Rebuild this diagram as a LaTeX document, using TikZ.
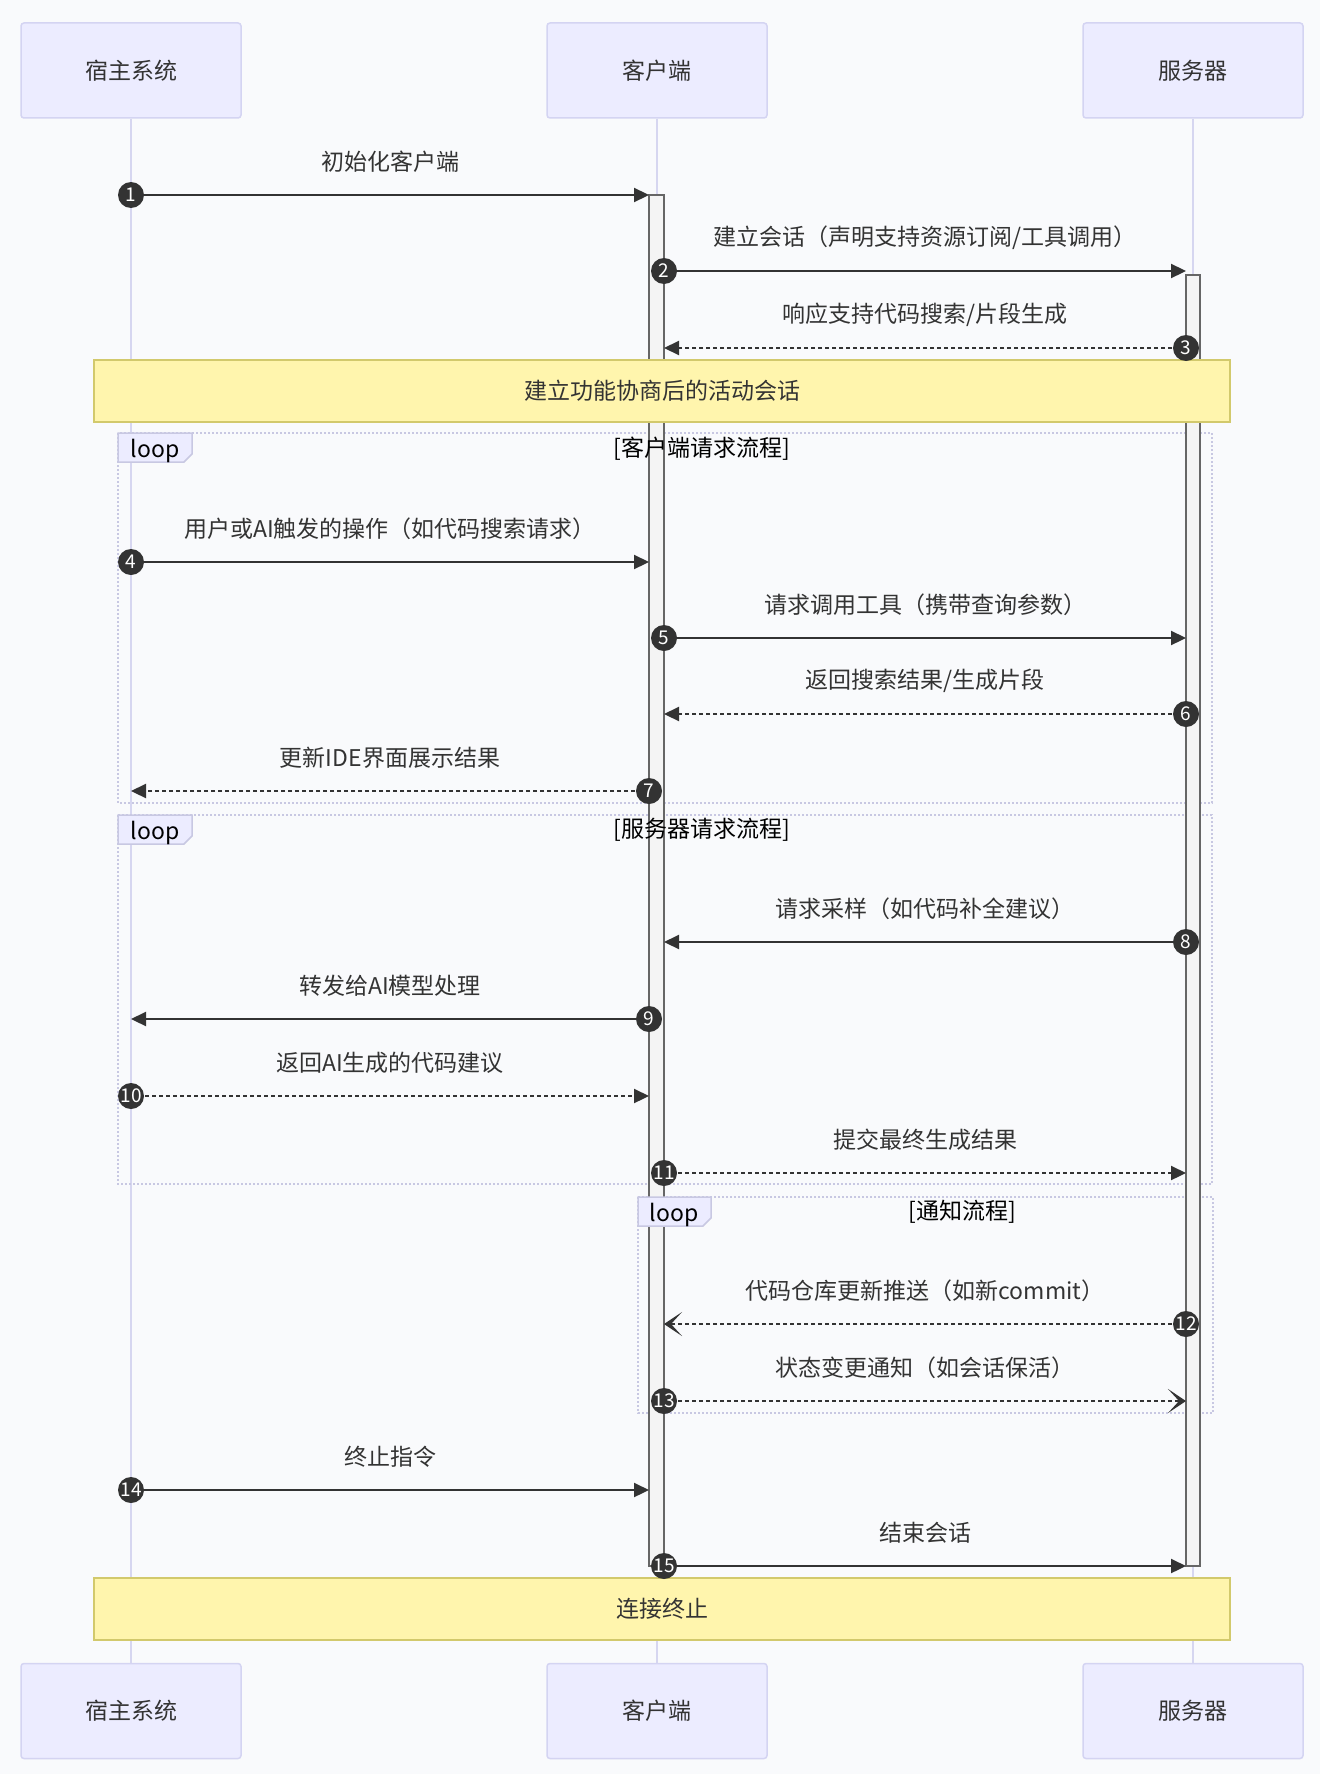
\documentclass[tikz,border=0pt]{standalone}
\usepackage{fontspec}
\setmainfont{Noto Sans CJK SC}
\usetikzlibrary{arrows.meta}

\definecolor{pagebg}{HTML}{F9FAFC}
\definecolor{actorfill}{HTML}{ECECFF}
\definecolor{actorline}{HTML}{D4D4F2}
\definecolor{lifeline}{HTML}{D6D6F0}
\definecolor{ink}{HTML}{333333}
\definecolor{notefill}{HTML}{FFF5AD}
\definecolor{noteline}{HTML}{D2C96C}
\definecolor{actfill}{HTML}{F4F4F4}
\definecolor{actline}{HTML}{666666}
\definecolor{loopline}{HTML}{C8C8E2}

\tikzset{
  actor/.style={rectangle, rounded corners=3pt, fill=actorfill, draw=actorline,
    line width=1.5pt, minimum width=220pt, minimum height=95pt, inner sep=0pt,
    text=ink, font=\fontsize{23}{27}\selectfont},
  life/.style={draw=lifeline, line width=2pt},
  actbar/.style={fill=actfill, draw=actline, line width=1.3pt},
  notebox/.style={rectangle, fill=notefill, draw=noteline, line width=1.5pt,
    inner sep=0pt, text=ink, font=\fontsize{23}{27}\selectfont},
  msg/.style={draw=ink, line width=2.2pt, -{Triangle[length=15pt,width=14pt]}},
  dmsg/.style={msg, dash pattern=on 4pt off 3pt},
  amsg/.style={draw=ink, line width=2.2pt, dash pattern=on 4pt off 3pt,
    -{Stealth[length=18pt,width=24pt,inset=11pt]}},
  num/.style={circle, fill=ink, text=white, minimum size=26pt, inner sep=0pt,
    font=\fontsize{19}{19}\selectfont},
  lbl/.style={text=ink, inner sep=0pt, font=\fontsize{23}{27}\selectfont},
  frame/.style={draw=loopline, line width=2pt, dash pattern=on 2pt off 2pt},
  looptag/.style={fill=actorfill, draw=loopline, line width=1.5pt},
  looptxt/.style={text=black, inner sep=0pt, font=\fontsize{23}{27}\selectfont},
}

\begin{document}
\begin{tikzpicture}[x=1pt,y=-1pt]
\fill[pagebg] (0,0) rectangle (1320,1774);
\useasboundingbox (0,0) rectangle (1320,1774);

% participants, top and bottom
\node[actor] (hostT) at (131,70.5) {宿主系统};
\node[actor] (clientT) at (657,70.5) {客户端};
\node[actor] (serverT) at (1193,70.5) {服务器};
\node[actor] (hostB) at (131,1711) {宿主系统};
\node[actor] (clientB) at (657,1711) {客户端};
\node[actor] (serverB) at (1193,1711) {服务器};

% lifelines
\draw[life] (hostT.south) -- (hostB.north);
\draw[life] (clientT.south) -- (clientB.north);
\draw[life] (serverT.south) -- (serverB.north);

% loop frames
\draw[frame] (118,433) rectangle (1212,803);
\draw[frame] (118,815) rectangle (1212,1184);
\draw[frame] (638,1197) rectangle (1213,1413);

% activation bars
\draw[actbar] (649,195) rectangle (664,1566);
\draw[actbar] (1186,275) rectangle (1200,1566);

% loop tags and titles
\draw[looptag] (118,433) -- (192,433) -- (192,454) -- (184,462) -- (118,462) -- cycle;
\node[looptxt] (loopA) at (155,451) {loop};
\draw[looptag] (118,815) -- (192,815) -- (192,836) -- (184,844) -- (118,844) -- cycle;
\node[looptxt] (loopB) at (155,833) {loop};
\draw[looptag] (638,1197) -- (711,1197) -- (711,1218) -- (703,1226) -- (638,1226) -- cycle;
\node[looptxt] (loopC) at (674,1215) {loop};

\node[lbl, text=black] (tA) at (702,449) {[客户端请求流程]};
\node[lbl, text=black] (tB) at (702,830) {[服务器请求流程]};
\node[lbl, text=black] (tC) at (962,1212) {[通知流程]};

% notes
\node[notebox, minimum width=1136pt, minimum height=62pt] (noteA) at (662,391) {建立功能协商后的活动会话};
\node[notebox, minimum width=1136pt, minimum height=62pt] (noteB) at (662,1609) {连接终止};

% messages
\coordinate (s1) at (131,195);  \coordinate (e1) at (649,195);
\coordinate (s2) at (664,271);  \coordinate (e2) at (1186,271);
\coordinate (s3) at (1186,348); \coordinate (e3) at (664,348);
\coordinate (s4) at (131,562);  \coordinate (e4) at (649,562);
\coordinate (s5) at (664,638);  \coordinate (e5) at (1186,638);
\coordinate (s6) at (1186,714); \coordinate (e6) at (664,714);
\coordinate (s7) at (649,791);  \coordinate (e7) at (131,791);
\coordinate (s8) at (1186,942); \coordinate (e8) at (664,942);
\coordinate (s9) at (649,1019); \coordinate (e9) at (131,1019);
\coordinate (s10) at (131,1096); \coordinate (e10) at (649,1096);
\coordinate (s11) at (664,1173); \coordinate (e11) at (1186,1173);
\coordinate (s12) at (1186,1324); \coordinate (e12) at (664,1324);
\coordinate (s13) at (664,1401); \coordinate (e13) at (1186,1401);
\coordinate (s14) at (131,1490); \coordinate (e14) at (649,1490);
\coordinate (s15) at (664,1566); \coordinate (e15) at (1186,1566);

\draw[msg]  (s1) -- (e1);
\draw[msg]  (s2) -- (e2);
\draw[dmsg] (s3) -- (e3);
\draw[msg]  (s4) -- (e4);
\draw[msg]  (s5) -- (e5);
\draw[dmsg] (s6) -- (e6);
\draw[dmsg] (s7) -- (e7);
\draw[msg]  (s8) -- (e8);
\draw[msg]  (s9) -- (e9);
\draw[dmsg] (s10) -- (e10);
\draw[dmsg] (s11) -- (e11);
\draw[amsg] (s12) -- (e12);
\draw[amsg] (s13) -- (e13);
\draw[msg]  (s14) -- (e14);
\draw[msg]  (s15) -- (e15);

\foreach \i in {1,...,15} { \node[num] (n\i) at (s\i) {\i}; }

% message labels
\node[lbl] (l1)  at (390,162)  {初始化客户端};
\node[lbl] (l2)  at (925,238)  {建立会话（声明支持资源订阅/工具调用）};
\node[lbl] (l3)  at (925,315)  {响应支持代码搜索/片段生成};
\node[lbl] (l4)  at (390,529)  {用户或AI触发的操作（如代码搜索请求）};
\node[lbl] (l5)  at (925,605)  {请求调用工具（携带查询参数）};
\node[lbl] (l6)  at (925,681)  {返回搜索结果/生成片段};
\node[lbl] (l7)  at (390,758)  {更新IDE界面展示结果};
\node[lbl] (l8)  at (925,909)  {请求采样（如代码补全建议）};
\node[lbl] (l9)  at (390,986)  {转发给AI模型处理};
\node[lbl] (l10) at (390,1063) {返回AI生成的代码建议};
\node[lbl] (l11) at (925,1140) {提交最终生成结果};
\node[lbl] (l12) at (925,1291) {代码仓库更新推送（如新commit）};
\node[lbl] (l13) at (925,1368) {状态变更通知（如会话保活）};
\node[lbl] (l14) at (390,1457) {终止指令};
\node[lbl] (l15) at (925,1533) {结束会话};
\end{tikzpicture}
\end{document}
